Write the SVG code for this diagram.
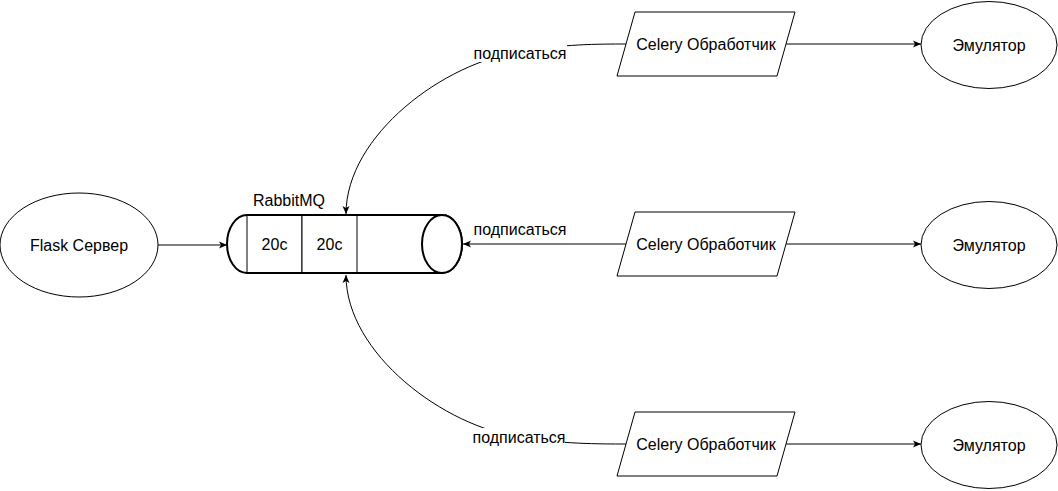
<svg xmlns="http://www.w3.org/2000/svg" width="1058" height="491" viewBox="0 0 1058 491">
<style>
.s{fill:#fff;stroke:#000;stroke-width:1}
.cyl{fill:#fff;stroke:#000;stroke-width:2}
.t{font-family:"Liberation Sans",Arial,sans-serif;font-size:16px;fill:#000;text-anchor:middle;dominant-baseline:central}
.e{fill:none;stroke:#000;stroke-width:1}
.bg{fill:#fff;stroke:none}
</style>
<defs>
<marker id="arr" markerWidth="10" markerHeight="10" refX="9" refY="5" orient="auto" markerUnits="userSpaceOnUse">
<path d="M1,1.5 L9,5 L1,8.5 L3,5 Z" fill="#000"/>
</marker>
</defs>
<rect width="1058" height="491" fill="#fff"/>
<g id="connectors">
<path class="e" d="M158,245 L227,245" marker-end="url(#arr)"/>
<path class="e" d="M786,44 L921,44" marker-end="url(#arr)"/>
<path class="e" d="M786,244 L921,244" marker-end="url(#arr)"/>
<path class="e" d="M786,444 L921,444" marker-end="url(#arr)"/>
<path class="e" d="M626,244 L463,244" marker-end="url(#arr)"/>
<path class="e" d="M626,44 C600,44 560,44 520,52 C445,62 346,135 346,214" marker-end="url(#arr)"/>
<path class="e" d="M626,444 C600,444 560,444 520,437 C445,427 346,354 346,275" marker-end="url(#arr)"/>
<rect class="bg" x="474" y="45" width="93" height="17"/>
<text class="t" x="520" y="53">подписаться</text>
<text class="t" x="520" y="229">подписаться</text>
<rect class="bg" x="474" y="428" width="91" height="15"/>
<text class="t" x="519" y="437">подписаться</text>
</g>
<g id="flask">
<ellipse class="s" cx="79" cy="245" rx="79" ry="52"/>
<text class="t" x="79" y="245">Flask Сервер</text>
</g>
<g id="rabbitmq">
<path class="cyl" d="M247,215 L442,215 A20,29 0 0 1 442,273 L247,273 A20,29 0 0 1 247,215 Z"/>
<rect class="s" x="247" y="215" width="55" height="58"/>
<rect class="s" x="302" y="215" width="55" height="58"/>
<line x1="247" y1="273" x2="442" y2="273" stroke="#000" stroke-width="2"/>
<line x1="247" y1="215" x2="442" y2="215" stroke="#000" stroke-width="2"/>
<ellipse class="cyl" cx="442" cy="244" rx="20" ry="29"/>
<text class="t" x="274.5" y="244">20c</text>
<text class="t" x="329.5" y="244">20c</text>
<text class="t" x="289" y="200">RabbitMQ</text>
</g>
<g id="celery1">
<polygon class="s" points="635,12 795,12 777,76 617,76"/>
<text class="t" x="706" y="44">Celery Обработчик</text>
</g>
<g id="celery2">
<polygon class="s" points="635,212 795,212 777,276 617,276"/>
<text class="t" x="706" y="244">Celery Обработчик</text>
</g>
<g id="celery3">
<polygon class="s" points="635,412 795,412 777,476 617,476"/>
<text class="t" x="706" y="444">Celery Обработчик</text>
</g>
<g id="emu1">
<ellipse class="s" cx="989" cy="45" rx="68" ry="43.5"/>
<text class="t" x="989" y="45">Эмулятор</text>
</g>
<g id="emu2">
<ellipse class="s" cx="989" cy="245" rx="68" ry="43.5"/>
<text class="t" x="989" y="245">Эмулятор</text>
</g>
<g id="emu3">
<ellipse class="s" cx="989" cy="445" rx="68" ry="43.5"/>
<text class="t" x="989" y="445">Эмулятор</text>
</g>
</svg>
